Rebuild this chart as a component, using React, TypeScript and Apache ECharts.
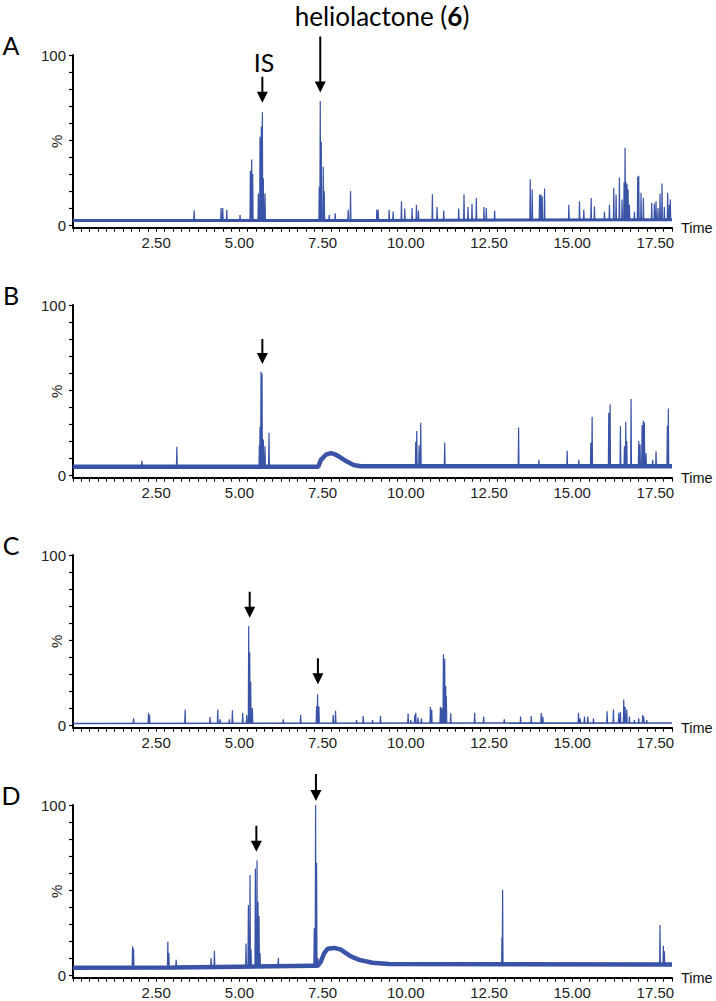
import React, { useEffect, useRef } from 'react';
import * as echarts from 'echarts';

// ---------- data ----------
const X_MIN = 0;
const X_MAX = 18;
const X_TICK_STEP = 0.25;
const xLabelValues = [2.5, 5, 7.5, 10, 12.5, 15, 17.5];
const yTickValues = [0, 10, 20, 30, 40, 50, 60, 70, 80, 90, 100];
const yLabelValues = [0, 100];
const panelLetters = ['A', 'B', 'C', 'D'];

// baseline (noise band centre) per panel: [time, %]
const baselineA = [[0, 2.7], [9, 2.8], [18, 3.2]];
const baselineB = [[0, 4.9], [7.37, 5], [7.45, 9], [7.6, 12], [7.75, 13], [7.9, 12], [8.03, 10.5], [8.23, 8], [8.43, 6], [8.65, 5.2], [18, 5.3]];
const baselineC = [[0, 1.0], [18, 1.3]];
const baselineD = [[0, 4.3], [3, 4.5], [5, 5], [7.2, 5.5], [7.35, 5.5], [7.45, 8], [7.55, 13], [7.65, 15.5], [7.85, 16], [8.05, 15], [8.2, 13], [8.35, 11], [8.6, 9], [9.0, 7.3], [9.5, 6.6], [18, 6.3]];

// foot level from which spikes rise
const footA = 2.7;
const footB = 5;
const footC = 1.2;
const footD = 5.5;

// spikes: [time, %]
const peaksA = [
  [3.64, 8.8], [4.45, 10], [4.5, 10], [4.62, 9], [5.02, 6],
  [5.33, 32], [5.37, 38.6], [5.4, 30],
  [5.57, 18.6], [5.62, 52], [5.66, 58], [5.69, 66.3], [5.72, 27.5], [5.77, 18.6],
  [7.4, 22.5], [7.43, 73], [7.46, 49], [7.52, 34.3], [7.55, 20],
  [7.7, 6], [7.88, 7], [8.27, 9], [8.34, 20],
  [9.13, 9.2], [9.17, 9], [9.5, 9], [9.62, 8], [9.87, 14.1], [9.97, 9.8], [10.19, 10], [10.32, 12], [10.38, 8.6],
  [10.8, 18.2], [10.94, 10.6], [11.14, 8.6], [11.59, 9.8], [11.75, 18.2], [11.87, 10.6], [11.99, 12.5], [12.12, 16],
  [12.35, 10.6], [12.42, 10], [12.67, 8.6],
  [13.74, 26.9], [13.8, 21], [14.02, 18], [14.06, 18], [14.1, 17], [14.17, 21.5],
  [14.9, 12], [15.22, 14.1], [15.35, 9], [15.57, 16], [15.67, 11], [15.97, 7.8], [16.12, 12],
  [16.25, 22], [16.32, 18], [16.42, 28], [16.5, 15], [16.56, 25], [16.59, 45.5], [16.62, 25], [16.65, 24], [16.68, 21], [16.72, 12],
  [16.87, 7.8], [16.97, 28.4], [17.0, 29], [17.07, 19], [17.14, 16], [17.39, 13], [17.47, 12.7], [17.52, 14], [17.58, 10],
  [17.64, 18.6], [17.7, 24.5], [17.77, 10.6], [17.87, 19], [17.92, 12], [17.95, 15],
];
const peaksB = [
  [2.07, 8.4], [3.12, 16.7],
  [5.6, 17.6], [5.62, 28.4], [5.65, 60.8], [5.68, 59.8], [5.72, 21], [5.77, 17], [5.89, 24.9],
  [10.3, 19.6], [10.33, 26], [10.4, 17.5], [10.45, 30.8],
  [11.17, 19], [13.39, 28], [14.0, 9], [14.85, 14.3], [15.2, 9],
  [15.56, 19], [15.6, 34.3], [16.1, 36.7], [16.14, 41.6], [16.45, 28.8], [16.57, 17], [16.61, 31.4], [16.64, 20],
  [16.77, 44.7], [17.0, 20], [17.04, 18], [17.1, 29.4], [17.14, 32], [17.17, 31], [17.22, 13], [17.42, 9], [17.52, 14],
  [17.86, 29], [17.89, 39.2],
];
const peaksC = [
  [1.82, 4], [2.27, 7.3], [2.3, 6], [3.37, 9.2], [4.12, 4.7], [4.35, 9.2], [4.42, 3.5], [4.7, 3.5], [4.79, 8.8],
  [5.1, 7.3], [5.22, 6], [5.28, 58.2], [5.31, 42.7], [5.34, 25.5], [5.39, 10],
  [6.32, 3.5], [6.84, 5.9], [7.32, 11.2], [7.35, 18.2], [7.39, 11], [7.82, 6], [7.89, 8.4],
  [8.52, 3], [8.72, 5.3], [9.0, 3], [9.24, 5.3], [10.07, 6.9], [10.15, 3], [10.27, 5.9], [10.3, 7.3], [10.37, 4.5], [10.47, 4],
  [10.74, 10.8], [10.78, 9], [11.04, 10.8], [11.08, 10], [11.13, 41.6], [11.17, 39.2], [11.2, 23], [11.22, 17], [11.35, 7],
  [12.07, 7.3], [12.34, 5], [12.96, 3.5], [13.45, 5], [13.77, 5.3], [14.07, 7.3], [14.12, 5],
  [15.19, 7.3], [15.24, 4], [15.37, 5], [15.47, 5], [15.64, 4], [16.05, 8.2], [16.24, 9.2], [16.4, 7.3], [16.45, 7.8],
  [16.55, 15.1], [16.59, 10.8], [16.64, 9.2], [16.72, 5], [16.87, 3], [17.0, 4], [17.12, 6], [17.15, 5], [17.24, 3],
];
const peaksD = [
  [1.79, 17], [1.82, 15.7], [2.85, 19.6], [2.88, 13], [3.1, 9], [4.15, 10], [4.25, 14.3],
  [5.2, 18.6], [5.27, 41.2], [5.32, 58.8], [5.35, 15], [5.48, 62.7], [5.53, 67.6], [5.56, 43.1], [5.59, 34.7], [5.62, 13],
  [6.17, 10], [7.25, 27.5], [7.29, 100], [7.32, 66], [7.36, 10],
  [12.89, 22.2], [12.91, 50], [17.64, 29.4], [17.74, 17.2], [17.77, 14],
];

// arrows: [time, % the arrow points at, arrow length px, gap above that point px]
const arrowsA = [[5.69, 72, 26, 0], [7.43, 78, 56, 0]];
const arrowsB = [[5.69, 65.3, 25, 0]];
const arrowsC = [[5.31, 63.1, 26, 0], [7.36, 24.1, 26, 0]];
const arrowsD = [[5.51, 72.5, 26, 0], [7.3, 100, 27, 4]];

const panels = [
  { baseline: baselineA, peaks: peaksA, foot: footA, arrows: arrowsA, band: 3 },
  { baseline: baselineB, peaks: peaksB, foot: footB, arrows: arrowsB, band: 4.5 },
  { baseline: baselineC, peaks: peaksC, foot: footC, arrows: arrowsC, band: 1.6 },
  { baseline: baselineD, peaks: peaksD, foot: footD, arrows: arrowsD, band: 4.5 },
];

// ---------- layout / style ----------
const LINE_COLOR = '#3953a6';
const GRID_TOPS = [55, 305, 555, 805];
const GRID_LEFT = 73;
const GRID_WIDTH = 599;
const GRID_HEIGHT = 172.7;
const AXIS_FONT = 'Liberation Sans, Arial, sans-serif';
const TEXT_FONT = 'Lato, "Open Sans", sans-serif';

function spikes(peaks: number[][], foot: number) {
  const w = 0.012;
  const out: any[] = [];
  for (const [t, h] of peaks) {
    out.push([t - w, foot], [t, h], [t + w, foot], [t + w, '-']);
  }
  return out;
}

function arrowPath(len: number) {
  const h = 11;
  return `path://M4.5,0 L6.5,0 L6.5,${len - h} L11,${len - h} L5.5,${len} L0,${len - h} L4.5,${len - h} Z`;
}

function isLabel(v: number) {
  return xLabelValues.some((x) => Math.abs(x - v) < 1e-6);
}

export default function App() {
  const ref = useRef<HTMLDivElement>(null);

  useEffect(() => {
    if (!ref.current) return;
    const chart = echarts.init(ref.current, undefined, { renderer: 'svg' });

    const grid = GRID_TOPS.map((top) => ({ left: GRID_LEFT, top, width: GRID_WIDTH, height: GRID_HEIGHT }));

    const xAxis = GRID_TOPS.map((_, i) => ({
      type: 'value',
      gridIndex: i,
      min: X_MIN,
      max: X_MAX,
      interval: X_TICK_STEP,
      axisLine: { show: true, onZero: false, lineStyle: { color: '#000', width: 2 } },
      axisTick: { show: true, length: 4, lineStyle: { color: '#000', width: 1 } },
      axisLabel: {
        margin: 7,
        fontSize: 15,
        color: '#222',
        fontFamily: AXIS_FONT,
        formatter: (v: number) => (isLabel(v) ? v.toFixed(2) : ''),
      },
      splitLine: { show: false },
      name: 'Time',
      nameLocation: 'end',
      nameGap: 9,
      nameMoveOverlap: false,
      nameTextStyle: { fontSize: 14.5, color: '#111', fontFamily: AXIS_FONT, align: 'left', verticalAlign: 'middle' },
    }));

    const yAxis = GRID_TOPS.map((_, i) => ({
      type: 'value',
      gridIndex: i,
      min: -1.5,
      max: 100,
      axisLine: { show: true, onZero: false, lineStyle: { color: '#000', width: 2 } },
      axisTick: { show: true, length: 4, customValues: yTickValues, lineStyle: { color: '#000', width: 1.2 } },
      axisLabel: { customValues: yLabelValues, fontSize: 15, margin: 7, color: '#222', fontFamily: AXIS_FONT },
      splitLine: { show: false },
      name: '%',
      nameLocation: 'middle',
      nameRotate: 90,
      nameGap: 9,
      nameMoveOverlap: false,
      nameTextStyle: { fontSize: 15, color: '#222', fontFamily: AXIS_FONT },
    }));

    const series: any[] = [];
    panels.forEach((p, i) => {
      series.push({
        type: 'line',
        xAxisIndex: i,
        yAxisIndex: i,
        data: p.baseline,
        showSymbol: false,
        silent: true,
        lineStyle: { color: LINE_COLOR, width: p.band },
        z: 2,
      });
      series.push({
        type: 'line',
        xAxisIndex: i,
        yAxisIndex: i,
        data: spikes(p.peaks, p.foot),
        showSymbol: false,
        silent: true,
        clip: false,
        connectNulls: false,
        lineStyle: { color: LINE_COLOR, width: 1.2 },
        z: 3,
        markPoint: {
          silent: true,
          label: { show: false },
          itemStyle: { color: '#000' },
          data: p.arrows.map(([t, v, len, gap]) => ({
            coord: [t, v],
            symbol: arrowPath(len),
            symbolSize: [11, len],
            symbolKeepAspect: false,
            symbolOffset: [0, -(len / 2 + gap)],
          })),
        },
      });
    });

    const graphic: any[] = [
      ...panelLetters.map((l, i) => ({
        type: 'text',
        x: 11,
        y: GRID_TOPS[i] - 10,
        style: { text: l, font: `25px ${TEXT_FONT}`, fill: '#000', align: 'center', verticalAlign: 'middle' },
      })),
      {
        type: 'text',
        x: 382,
        y: 29,
        style: {
          text: '{n|heliolactone (}{b|6}{n|)}',
          align: 'center',
          verticalAlign: 'bottom',
          fill: '#000',
          rich: {
            n: { fontSize: 26, lineHeight: 26, fontFamily: TEXT_FONT, fill: '#000' },
            b: { fontSize: 26, lineHeight: 26, fontFamily: TEXT_FONT, fontWeight: 'bold', fill: '#000' },
          },
        },
      },
      {
        type: 'text',
        x: 264,
        y: 62,
        style: { text: 'IS', font: `25px ${TEXT_FONT}`, fill: '#000', align: 'center', verticalAlign: 'middle' },
      },
    ];

    chart.setOption({
      animation: false,
      backgroundColor: '#fff',
      grid,
      xAxis,
      yAxis,
      series,
      graphic,
    });

    return () => chart.dispose();
  }, []);

  return <div ref={ref} style={{ position: 'absolute', left: 0, top: 0, width: 716, height: 1001 }} />;
}
